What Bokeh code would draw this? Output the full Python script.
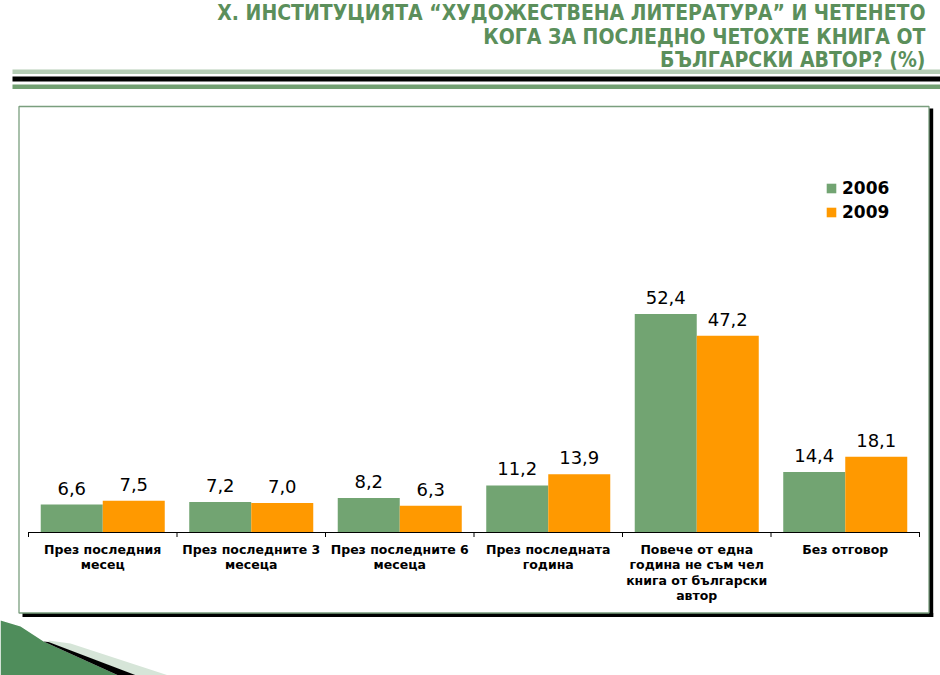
from bokeh.plotting import figure
from bokeh.models import Range1d, LinearAxis, FixedTicker, Legend, LegendItem, ColumnDataSource
from bokeh.transform import dodge
from bokeh.core.properties import value
from bokeh.embed import file_html
from bokeh.resources import INLINE

# ---------------- data ----------------
title_lines = [
    "Х. ИНСТИТУЦИЯТА “ХУДОЖЕСТВЕНА ЛИТЕРАТУРА” И ЧЕТЕНЕТО",
    "КОГА ЗА ПОСЛЕДНО ЧЕТОХТЕ КНИГА ОТ",
    "БЪЛГАРСКИ АВТОР? (%)",
]
categories = [
    "През последния\nмесец",
    "През последните 3\nмесеца",
    "През последните 6\nмесеца",
    "През последната\nгодина",
    "Повече от една\nгодина не съм чел\nкнига от български\nавтор",
    "Без отговор",
]
series_names = ["2006", "2009"]
values_2006 = [6.6, 7.2, 8.2, 11.2, 52.4, 14.4]
values_2009 = [7.5, 7.0, 6.3, 13.9, 47.2, 18.1]

# ---------------- layout helpers (page pixels -> data) ----------------
W, H, M = 940, 675, 0
AX_LEFT, CAT_W, BASE_Y, PPU = 28.0, 148.5, 531.5, 4.16


def dx(X):
    return (X - AX_LEFT) / CAT_W


def dy(Y):
    return (BASE_Y - Y) / PPU


GREEN, ORANGE = "#72a472", "#ff9900"

p = figure(width=W, height=H, x_range=Range1d(dx(M), dx(M + W)),
           y_range=Range1d(dy(M + H), dy(M)), output_backend="svg",
           toolbar_location=None, x_axis_location=None, y_axis_location=None,
           min_border=0, outline_line_color=None)
p.xgrid.visible = False
p.ygrid.visible = False
p.background_fill_color = "white"
p.border_fill_color = "white"

# header stripes
p.quad(left=dx(12), right=dx(945), top=dy(69), bottom=dy(73.5), fill_color="#b5cdb5", line_color=None)
p.quad(left=dx(12), right=dx(945), top=dy(76), bottom=dy(81), fill_color="black", line_color=None)
p.quad(left=dx(12), right=dx(945), top=dy(84), bottom=dy(88.5), fill_color="#72a072", line_color=None)

# title
p.text(x=[dx(925)] * 3, y=[dy(12), dy(36), dy(59.5)], text=title_lines,
       text_align="right", text_baseline="alphabetic",
       text_font=value("DejaVu Sans Condensed"), text_font_style="bold",
       text_font_size="21px", text_color="#5b8f5b")

# chart box with shadow
p.quad(left=dx(22), right=dx(932.7), top=dy(612.5), bottom=dy(616.5), fill_color="black", line_color=None)
p.quad(left=dx(928.5), right=dx(932.7), top=dy(108), bottom=dy(616.5), fill_color="black", line_color=None)
p.quad(left=dx(18.5), right=dx(928.5), top=dy(106), bottom=dy(612.5), fill_color="white",
       line_color="#7a9e7e", line_width=1.3)

# logo decoration
p.patch(x=[dx(v) for v in [0, 20, 43, 118, 0]], y=[dy(v) for v in [620, 626, 641, 675, 675]],
        fill_color="#4f8d5b", line_color=None)
p.patch(x=[dx(v) for v in [48, 70, 168, 135, 48]], y=[dy(v) for v in [640, 643, 675, 675, 642]],
        fill_color="#d6e5d8", line_color=None)
p.patch(x=[dx(v) for v in [43, 48, 136, 118]], y=[dy(v) for v in [641, 641.5, 675, 675]],
        fill_color="black", line_color=None)

# bars
fmt = lambda v: f"{v:.1f}".replace(".", ",")
src = ColumnDataSource(dict(
    x=[i + 0.5 for i in range(len(categories))],
    v06=values_2006, v09=values_2009,
    l06=[fmt(v) for v in values_2006], l09=[fmt(v) for v in values_2009],
))
OFF, BW = 0.2088, 0.4175
r1 = p.vbar(x=dodge("x", -OFF), top="v06", width=BW, source=src, fill_color=GREEN, line_color=None)
r2 = p.vbar(x=dodge("x", OFF), top="v09", width=BW, source=src, fill_color=ORANGE, line_color=None)

for xo, col in [(-OFF, "l06"), (OFF, "l09")]:
    p.text(x=dodge("x", xo), y=col.replace("l", "v"), text=col, source=src,
           text_align="center", text_baseline="bottom", y_offset=-10,
           text_font=value("DejaVu Sans"), text_font_size="18px", text_color="black")

# category axis at value 0
n = len(categories)
ax_lab = LinearAxis(fixed_location=0, ticker=FixedTicker(ticks=[i + 0.5 for i in range(n)]),
                    major_label_overrides={i + 0.5: c for i, c in enumerate(categories)},
                    bounds=(0, n), axis_line_color="black", axis_line_width=1,
                    major_tick_line_color=None,
                    minor_tick_out=0, minor_tick_in=0, major_tick_out=0, major_tick_in=0,
                    major_label_standoff=10, major_label_text_font="DejaVu Sans",
                    major_label_text_font_style="bold", major_label_text_font_size="12.5px",
                    major_label_text_color="black", major_label_text_line_height=1.03)
p.add_layout(ax_lab, "below")

# category separator ticks
bounds_x = list(range(n + 1))
p.segment(x0=bounds_x, x1=bounds_x, y0=[0] * (n + 1), y1=[dy(BASE_Y + 5)] * (n + 1),
          line_color="black", line_width=1)

legend = Legend(items=[LegendItem(label=series_names[0], renderers=[r1]),
                       LegendItem(label=series_names[1], renderers=[r2])],
                location=(825 - M, H + M - 221.7), glyph_width=12, glyph_height=12,
                label_text_font="DejaVu Sans", label_text_font_size="17px",
                label_text_font_style="bold", label_text_color="black",
                label_standoff=5, padding=0, margin=0,
                spacing=4, label_height=20, background_fill_alpha=0, border_line_color=None)
p.add_layout(legend)

open("out.html", "w").write(file_html(p, INLINE))
